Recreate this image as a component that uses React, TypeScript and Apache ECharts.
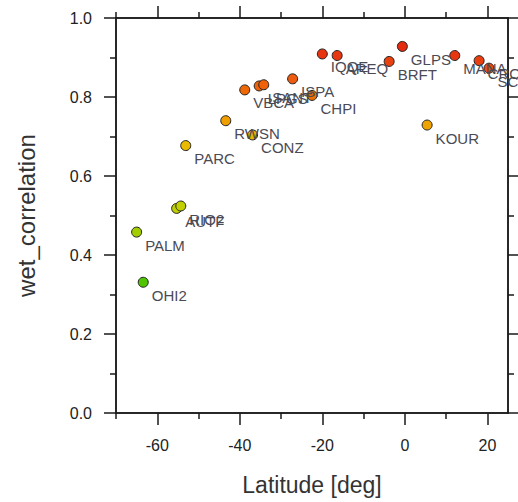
import React, { useEffect, useRef } from "react";
import * as echarts from "echarts";

const stations = ["OHI2", "PALM", "AUTF", "RIO2", "PARC", "RWSN", "CONZ", "VBCA", "LPGS", "SANT", "ISPA", "CHPI", "IQQE", "AREQ", "BRFT", "GLPS", "KOUR", "MANA", "CRO1", "SCUB"];
const latitude = [-63.4, -65.0, -55.3, -54.3, -53.1, -43.4, -36.9, -38.8, -35.3, -34.2, -27.2, -22.5, -20.0, -16.4, -3.8, -0.6, 5.4, 12.1, 18.0, 20.4];
const wetCorrelation = [0.331, 0.458, 0.518, 0.524, 0.677, 0.74, 0.704, 0.818, 0.828, 0.831, 0.846, 0.804, 0.909, 0.905, 0.89, 0.928, 0.729, 0.905, 0.892, 0.873];

const xMajorTicks = [-60, -40, -20, 0, 20];
const xMinorTicks = [-70, -50, -30, -10, 10];
const yMajorTicks = [0, 0.2, 0.4, 0.6, 0.8, 1.0];
const yMinorTicks = [0.1, 0.3, 0.5, 0.7, 0.9];

const FONT = "Liberation Sans, Arial, Helvetica, sans-serif";
const LINE = { color: "#1a1a1a", width: 1.5 };

export default function App() {
  const ref = useRef<HTMLDivElement>(null);
  useEffect(() => {
    if (!ref.current) return;
    const chart = echarts.init(ref.current, undefined, { renderer: "svg" });
    const xBase = (position: string, ticks: number[], len: number, labels: boolean, extra: any = {}) => ({
      type: "value",
      min: -70,
      max: 25,
      position,
      axisLine: { show: true, onZero: false, lineStyle: LINE },
      axisTick: { show: true, length: len, customValues: ticks, lineStyle: LINE },
      axisLabel: labels
        ? { show: true, customValues: ticks, margin: 24, fontSize: 16, color: "#222", fontFamily: FONT }
        : { show: false },
      splitLine: { show: false },
      ...extra,
    });
    const yBase = (position: string, ticks: number[], len: number, labels: boolean, extra: any = {}) => ({
      type: "value",
      min: 0,
      max: 1,
      position,
      axisLine: { show: true, onZero: false, lineStyle: LINE },
      axisTick: { show: true, length: len, customValues: ticks, lineStyle: LINE },
      axisLabel: labels
        ? {
            show: true,
            customValues: ticks,
            margin: 24,
            fontSize: 16,
            color: "#222",
            fontFamily: FONT,
            formatter: (v: number) => v.toFixed(1),
          }
        : { show: false },
      splitLine: { show: false },
      ...extra,
    });
    chart.setOption({
      animation: false,
      backgroundColor: "#ffffff",
      grid: { left: 116, right: 10, top: 18, bottom: 89, containLabel: false },
      xAxis: [
        xBase("bottom", xMajorTicks, 12, true, {
          name: "Latitude [deg]",
          nameLocation: "middle",
          nameGap: 60,
          nameTextStyle: { fontSize: 23, color: "#333", fontFamily: FONT },
        }),
        xBase("bottom", xMinorTicks, 6, false),
        xBase("top", xMajorTicks, 12, false),
        xBase("top", xMinorTicks, 6, false),
      ],
      yAxis: [
        yBase("left", yMajorTicks, 12, true, {
          name: "wet_correlation",
          nameLocation: "middle",
          nameRotate: 90,
          nameGap: 78,
          nameTextStyle: { fontSize: 24, color: "#333", fontFamily: FONT },
        }),
        yBase("left", yMinorTicks, 6, false),
        yBase("right", yMajorTicks, 12, false),
        yBase("right", yMinorTicks, 6, false),
      ],
      visualMap: {
        type: "continuous",
        show: false,
        seriesIndex: 0,
        dimension: 1,
        min: 0.3,
        max: 0.95,
        inRange: {
          color: [
            "#30c000", "#60c800", "#88c800", "#a0cc00", "#b8d000", "#ccd000", "#dccc00",
            "#e6c400", "#ecb400", "#f09800", "#f07000", "#ee5a10", "#e83a10", "#e02010",
          ],
        },
      },
      series: [
        {
          type: "scatter",
          xAxisIndex: 0,
          yAxisIndex: 0,
          symbol: "circle",
          symbolSize: 10,
          itemStyle: { borderColor: "#222", borderWidth: 1, opacity: 1 },
          label: {
            show: true,
            position: "right",
            distance: 3,
            offset: [0, 13],
            formatter: "{b}",
            fontSize: 15,
            color: "#4a4a55",
            fontFamily: FONT,
          },
          data: stations.map((s, i) => ({ name: s, value: [latitude[i], wetCorrelation[i]] })),
        },
      ],
    });
    return () => chart.dispose();
  }, []);
  return <div ref={ref} style={{ position: "fixed", left: 0, top: 0, width: 518, height: 502 }} />;
}
